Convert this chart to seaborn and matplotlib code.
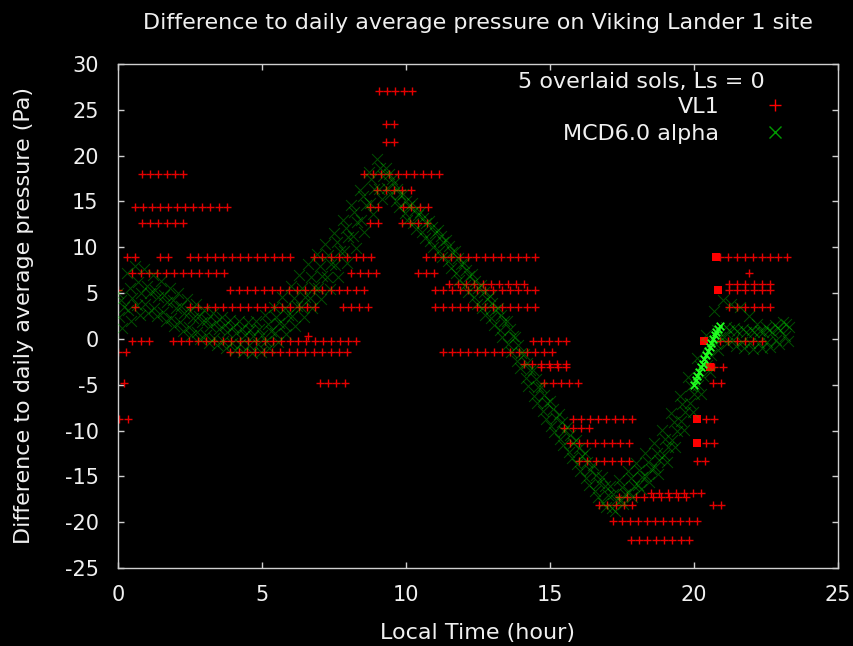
import numpy as np
import pandas as pd
import matplotlib
matplotlib.use("Agg")
import matplotlib.pyplot as plt
import seaborn as sns
from matplotlib.lines import Line2D

# ---------------- data ----------------
# VL1 observations: runs of identical (quantised) values, sampled every VL1_STEP hours
vl1_level = [27.0, 23.4, 21.5, 18.0, 18.0, 16.2, 14.4, 14.4, 14.4, 12.6, 12.6, 12.6,
             8.9, 8.9, 8.9, 8.9, 8.9, 8.9, 8.9, 7.2, 7.2, 7.2, 7.2, 6.0, 6.0,
             5.3, 5.3, 5.3, 5.3, 3.5, 3.5, 3.5, 3.5, 3.5, 0.3,
             -0.2, -0.2, -0.2, -0.2, -1.4, -1.4, -1.4, -2.7, -3.1, -3.1,
             -4.8, -4.8, -4.8, -4.8, -8.7, -8.7, -8.7, -9.7, -11.4, -11.4,
             -13.3, -13.3, -16.8, -17.2, -18.1, -18.1, -19.9, -21.9]
vl1_start = [9.05, 9.3, 9.3, 0.82, 8.55, 9.0, 0.59, 8.75, 9.9, 0.82, 8.75, 9.85,
             0.3, 1.45, 2.5, 6.8, 8.5, 10.7, 20.9, 0.5, 8.1, 10.4, 21.9, 11.5, 21.2,
             0.0, 3.9, 11.0, 21.2, 0.6, 2.5, 7.8, 11.0, 21.2, 6.6,
             0.5, 1.9, 14.4, 20.9, 0.0, 3.9, 11.3, 14.1, 14.7, 20.7,
             0.2, 7.0, 14.8, 20.65, 0.05, 15.8, 20.4, 15.5, 15.7, 20.4,
             16.0, 20.1, 18.5, 17.4, 16.7, 20.65, 17.2, 17.8]
vl1_count = [5, 2, 2, 6, 10, 5, 12, 2, 4, 6, 2, 4,
             2, 2, 13, 6, 2, 14, 9, 12, 4, 3, 1, 10, 6,
             1, 17, 13, 6, 1, 16, 4, 13, 6, 1,
             3, 23, 5, 6, 2, 15, 14, 6, 4, 2,
             1, 4, 5, 2, 2, 8, 2, 4, 8, 2,
             7, 2, 7, 9, 5, 2, 11, 8]
VL1_STEP = 0.29
# spots where many VL1 samples pile up
vl1_cluster_t = [20.35, 20.55, 20.1, 20.1, 20.75, 20.85]
vl1_cluster_v = [-0.2, -3.1, -8.7, -11.4, 8.9, 5.3]

# MCD6.0 alpha: 5 overlaid sols, one value every MCD_STEP hours
MCD_STEP = 0.3
mcd_phase = [0.0, 0.1, 0.2, 0.05, 0.15]
mcd_sol1 = [5.0, 7.2, 8.0, 7.6, 7.0, 6.3, 5.6, 5.0, 4.4, 3.8,
            3.2, 2.8, 2.4, 2.1, 1.9, 1.8, 2.0, 2.6, 3.5, 4.6,
            5.8, 7.0, 8.2, 9.3, 10.4, 11.6, 13.0, 14.6, 16.3, 18.2,
            19.6, 18.6, 17.0, 15.8, 14.8, 13.9, 12.9, 11.9, 10.8, 9.6,
            8.3, 7.1, 5.9, 4.7, 3.4, 1.9, 0.2, -1.6, -3.4, -5.2,
            -6.8, -8.2, -9.6, -11.0, -12.4, -13.8, -15.1, -16.0, -15.4, -14.4,
            -13.5, -12.5, -11.4, -9.9, -8.1, -6.2, -4.2, -2.1, 0.4, 3.0,
            4.2, 3.8, 3.5, 2.5, 1.6, 1.3, 1.5, 1.8]
mcd_sol2 = [4.2, 5.6, 6.2, 5.8, 5.3, 4.8, 4.2, 3.6, 3.0, 2.5,
            2.1, 1.8, 1.5, 1.3, 1.1, 1.0, 1.1, 1.6, 2.4, 3.4,
            4.5, 5.6, 6.8, 8.0, 9.2, 10.6, 12.1, 13.8, 15.6, 17.4,
            18.6, 18.0, 16.4, 15.1, 14.1, 13.2, 12.2, 11.2, 10.1, 8.8,
            7.5, 6.3, 5.1, 3.9, 2.6, 1.1, -0.7, -2.6, -4.4, -6.1,
            -7.7, -9.1, -10.5, -11.9, -13.4, -14.8, -16.1, -16.9, -16.2, -15.2,
            -14.3, -13.4, -12.4, -10.9, -9.1, -7.1, -5.1, -3.0, -0.7, 1.0,
            1.3, 1.2, 1.1, 1.0, 0.9, 1.0, 1.2, 1.6]
mcd_sol3 = [3.5, 4.5, 5.0, 5.0, 4.6, 4.0, 3.4, 2.8, 2.3, 1.8,
            1.4, 1.1, 0.8, 0.6, 0.4, 0.3, 0.4, 0.9, 1.7, 2.6,
            3.6, 4.6, 5.7, 6.9, 8.2, 9.6, 11.1, 12.8, 14.6, 16.4,
            17.8, 17.4, 15.8, 14.5, 13.5, 12.6, 11.6, 10.6, 9.5, 8.2,
            6.9, 5.6, 4.4, 3.2, 1.9, 0.3, -1.5, -3.4, -5.3, -7.0,
            -8.6, -10.0, -11.4, -12.8, -14.3, -15.7, -17.0, -17.6, -16.9, -16.0,
            -15.1, -14.2, -13.2, -11.8, -10.0, -8.0, -6.0, -4.0, -1.8, 0.2,
            1.0, 0.9, 0.8, 0.7, 0.7, 0.8, 1.0, 1.3]
mcd_sol4 = [2.4, 3.2, 3.7, 3.8, 3.4, 2.9, 2.3, 1.8, 1.3, 0.8,
            0.4, 0.1, -0.2, -0.4, -0.6, -0.7, -0.6, -0.2, 0.6, 1.5,
            2.5, 3.5, 4.5, 5.6, 6.8, 8.1, 9.6, 11.2, 13.0, 14.8,
            16.4, 16.5, 15.0, 13.7, 12.7, 11.7, 10.7, 9.6, 8.5, 7.2,
            5.9, 4.6, 3.4, 2.3, 1.0, -0.6, -2.4, -4.3, -6.2, -7.9,
            -9.5, -10.9, -12.3, -13.7, -15.2, -16.6, -17.9, -18.5, -17.6, -16.7,
            -15.9, -15.0, -14.0, -12.7, -11.0, -9.0, -7.0, -5.0, -2.8, -0.6,
            0.2, -0.1, -0.3, -0.4, -0.4, -0.3, -0.1, 0.3]
mcd_sol5 = [1.2, 2.0, 2.6, 2.8, 2.5, 2.0, 1.4, 0.9, 0.4, 0.0,
            -0.4, -0.7, -1.0, -1.2, -1.4, -1.5, -1.4, -1.0, -0.3, 0.5,
            1.4, 2.4, 3.4, 4.4, 5.5, 6.8, 8.3, 9.9, 11.7, 13.6,
            15.3, 15.8, 14.4, 13.0, 12.0, 11.0, 10.0, 8.9, 7.7, 6.4,
            5.1, 3.8, 2.6, 1.5, 0.2, -1.4, -3.2, -5.1, -7.0, -8.7,
            -10.2, -11.6, -13.0, -14.4, -15.9, -17.2, -18.3, -18.8, -18.0, -17.2,
            -16.4, -15.6, -14.7, -13.4, -11.8, -9.9, -8.0, -6.0, -3.6, -1.2,
            -0.5, -0.8, -1.0, -1.1, -1.0, -0.9, -0.6, -0.2]
# densely sampled stretch near 20-21 h
mcd_dense_t = [20.00, 20.06, 20.12, 20.18, 20.24, 20.30, 20.36, 20.42,
               20.48, 20.54, 20.60, 20.66, 20.72, 20.78, 20.84, 20.90]
mcd_dense_v = [-5.0, -4.5, -4.0, -3.6, -3.1, -2.7, -2.2, -1.8,
               -1.3, -0.9, -0.4, 0.0, 0.4, 0.8, 1.1, 1.4]

x_ticks = [0, 5, 10, 15, 20, 25]
y_ticks = [-25, -20, -15, -10, -5, 0, 5, 10, 15, 20, 25, 30]

title = "Difference to daily average pressure on Viking Lander 1 site"
xlabel = "Local Time (hour)"
ylabel = "Difference to daily average pressure (Pa)"
key_title = "5 overlaid sols, Ls = 0"
label_vl1 = "VL1"
label_mcd = "MCD6.0 alpha"

# ---------------- tables ----------------
rows = []
for lev, t0, n in zip(vl1_level, vl1_start, vl1_count):
    for k in range(n):
        rows.append((t0 + k * VL1_STEP, lev))
vl1 = pd.DataFrame(rows, columns=["time", "dp"])
vl1_cl = pd.DataFrame({"time": vl1_cluster_t, "dp": vl1_cluster_v})

mrows = []
for s, (ph, vals) in enumerate(zip(mcd_phase, [mcd_sol1, mcd_sol2, mcd_sol3, mcd_sol4, mcd_sol5])):
    for k, v in enumerate(vals):
        mrows.append((ph + k * MCD_STEP, v, s))
mcd = pd.DataFrame(mrows, columns=["time", "dp", "sol"])
mcd_d = pd.DataFrame({"time": mcd_dense_t, "dp": mcd_dense_v})

# ---------------- style ----------------
sns.set_style("dark")
plt.rcParams["font.family"] = ["DejaVu Sans"]
plt.rcParams["axes.unicode_minus"] = False
FG = "#f0f0f0"
SPINE = "#cfcfcf"
RED = "#ff0000"
GREEN = "#00e000"
TXT = 16

fig = plt.figure(figsize=(8.54, 6.46), dpi=100, facecolor="black")
ax = fig.add_axes([118 / 854, (646 - 568) / 646, 720 / 854, 504 / 646])
ax.set_facecolor("black")

sns.scatterplot(data=vl1, x="time", y="dp", marker="+", color=RED, s=40,
                linewidth=1.0, alpha=0.9, ax=ax, legend=False, zorder=2)
sns.scatterplot(data=vl1_cl, x="time", y="dp", marker="s", color=RED, s=30,
                linewidth=0, ax=ax, legend=False, zorder=2)
sns.scatterplot(data=mcd, x="time", y="dp", marker="x", color=GREEN, s=62,
                linewidth=0.7, alpha=0.36, ax=ax, legend=False, zorder=3)
sns.scatterplot(data=mcd_d, x="time", y="dp", marker="x", color="#20ff20", s=30,
                linewidth=1.3, ax=ax, legend=False, zorder=4)

ax.set_xlim(0, 25)
ax.set_ylim(-25, 30)
ax.set_xticks(x_ticks)
ax.set_yticks(y_ticks)
ax.grid(False)
for sp in ax.spines.values():
    sp.set_visible(True)
    sp.set_color(SPINE)
    sp.set_linewidth(1.0)
ax.tick_params(axis="both", direction="in", length=4, width=1, color=SPINE,
               bottom=True, left=True, top=True, right=True,
               labelsize=15, labelcolor=FG)
ax.tick_params(axis="x", pad=12)
ax.tick_params(axis="y", pad=14)

ax.set_title(title, color=FG, fontsize=TXT, pad=25)
ax.set_xlabel(xlabel, color=FG, fontsize=TXT, labelpad=13)
ax.set_ylabel(ylabel, color=FG, fontsize=TXT, labelpad=22)

ax.text(0.7264, 0.965, key_title, transform=ax.transAxes, ha="center", va="center",
        color=FG, fontsize=TXT)
handles = [Line2D([], [], linestyle="none", marker="+", color=RED, markersize=8, markeredgewidth=1.0),
           Line2D([], [], linestyle="none", marker="x", color="#009a00", markersize=8, markeredgewidth=1.0)]
leg = ax.legend(handles, [label_vl1, label_mcd], loc="upper right",
                bbox_to_anchor=(0.928, 0.934), frameon=False, markerfirst=False,
                fontsize=TXT, handlelength=1.0, handletextpad=2.0, borderpad=0,
                borderaxespad=0, labelspacing=0.3)
for t in leg.get_texts():
    t.set_color(FG)

fig.savefig("out.png", dpi=100, facecolor="black")
